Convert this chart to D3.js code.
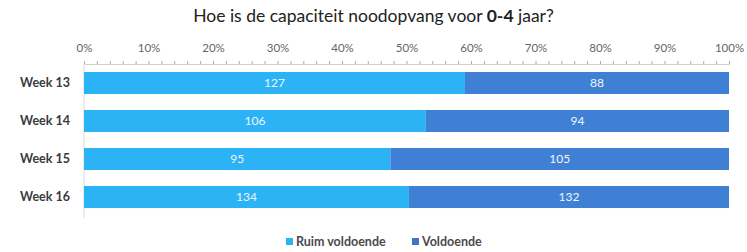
<!DOCTYPE html>
<html>
<head>
<meta charset="utf-8">
<script src="https://cdn.jsdelivr.net/npm/d3@7"></script>
<style>
  body { margin: 0; background: #fff; }
  text { font-family: Lato, "Open Sans", sans-serif; }
</style>
</head>
<body>
<div id="chart"></div>
<script>
var weeks = ["Week 13", "Week 14", "Week 15", "Week 16"];
var ruim = [127, 106, 95, 134];
var voldoende = [88, 94, 105, 132];
var seriesNames = ["Ruim voldoende", "Voldoende"];
var colors = ["#2cb3f5", "#3f80d4"];
var tickValues = [0, 0.1, 0.2, 0.3, 0.4, 0.5, 0.6, 0.7, 0.8, 0.9, 1];

var W = 747, H = 252;
var margin = {top: 64, left: 84, right: 18, bottom: 34};
var width = W - margin.left - margin.right,
    height = H - margin.top - margin.bottom;

var svg = d3.select("#chart").append("svg")
  .attr("width", W)
  .attr("height", H);

var title = svg.append("text")
  .attr("x", W / 2)
  .attr("y", 22)
  .attr("text-anchor", "middle")
  .style("font-size", "17.5px")
  .style("fill", "#222");
title.append("tspan").text("Hoe is de capaciteit noodopvang voor ");
title.append("tspan").style("font-weight", "bold").text("0-4");
title.append("tspan").text(" jaar?");

var g = svg.append("g")
  .attr("transform", "translate(" + margin.left + "," + margin.top + ")");

var x = d3.scaleLinear().domain([0, 1]).range([0, width]);
var y = d3.scaleBand().domain(weeks).range([0, 152]).paddingInner(0.42).paddingOuter(0.21);

// rows: share of each series per week
var rows = weeks.map(function(w, i) {
  var tot = ruim[i] + voldoende[i];
  return {week: w, vals: [ruim[i], voldoende[i]], shares: [ruim[i] / tot, voldoende[i] / tot]};
});

// minor ticks along top axis
g.append("g")
  .attr("class", "axis minor")
  .call(d3.axisTop(x).tickValues(d3.range(0, 1.0001, 0.02)).tickSize(3).tickFormat(""))
  .call(function(s) {
    s.select(".domain").attr("stroke", "#d9cfc4");
    s.selectAll(".tick line").attr("stroke", "#aaa");
  });

var xAxis = d3.axisTop(x).tickValues(tickValues).tickSize(0).tickPadding(12)
  .tickFormat(d3.format(".0%"));

g.append("g")
  .attr("class", "axis axis--x")
  .call(xAxis)
  .call(function(s) {
    s.select(".domain").remove();
    s.selectAll("text").style("font-size", "11.5px").style("fill", "#666")
      .style("font-family", "Lato, sans-serif");
  });

g.append("line")
  .attr("x1", 0).attr("x2", 0)
  .attr("y1", 0).attr("y2", 154)
  .attr("stroke", "#d8d8d8");

var row = g.selectAll("g.row")
  .data(rows)
  .enter().append("g")
  .attr("class", "row")
  .attr("transform", function(d) { return "translate(0," + y(d.week) + ")"; });

row.each(function(d) {
  var sel = d3.select(this);
  var start = 0;
  d.shares.forEach(function(s, k) {
    sel.append("rect")
      .attr("x", x(start))
      .attr("y", 0)
      .attr("width", x(start + s) - x(start))
      .attr("height", y.bandwidth())
      .attr("fill", colors[k]);
    sel.append("text")
      .attr("x", x(start + s / 2))
      .attr("y", y.bandwidth() / 2)
      .attr("dy", "0.35em")
      .attr("text-anchor", "middle")
      .style("font-size", "12px")
      .style("fill", "#eef6ff")
      .text(d.vals[k]);
    start += s;
  });
});

g.selectAll("text.cat")
  .data(weeks)
  .enter().append("text")
  .attr("class", "cat")
  .attr("x", -14)
  .attr("y", function(d) { return y(d) + y.bandwidth() / 2; })
  .attr("dy", "0.35em")
  .attr("text-anchor", "end")
  .style("font-size", "12.5px")
  .style("font-weight", "bold")
  .style("fill", "#3a3a3a")
  .text(function(d) { return d; });

// legend
var leg = svg.append("g").attr("transform", "translate(0," + 242 + ")");
var legX = [286, 412];
seriesNames.forEach(function(n, k) {
  leg.append("rect")
    .attr("x", legX[k]).attr("y", -4)
    .attr("width", 7).attr("height", 7)
    .attr("fill", k === 0 ? colors[0] : "#4472c4");
  leg.append("text")
    .attr("x", legX[k] + 10).attr("y", 0)
    .attr("dy", "0.35em")
    .style("font-size", "12.5px")
    .style("font-weight", "bold")
    .style("fill", "#4a4a4a")
    .text(n);
});
</script>
</body>
</html>
